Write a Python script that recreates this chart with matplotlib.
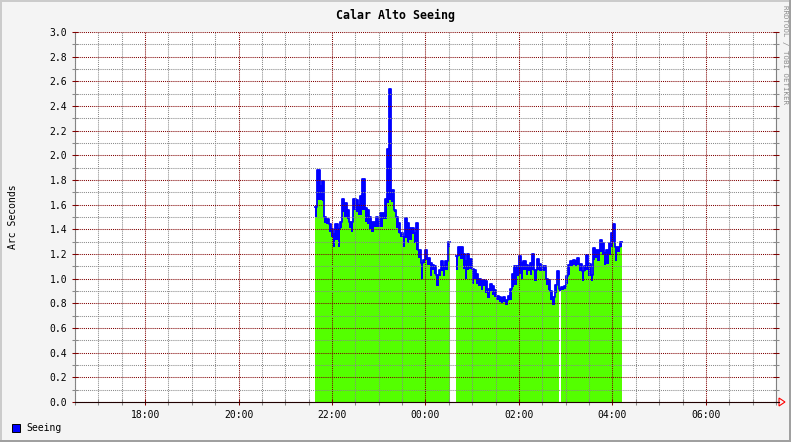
import numpy as np
import matplotlib
matplotlib.use("Agg")
import matplotlib.pyplot as plt
from matplotlib.patches import Rectangle, Polygon
from matplotlib.lines import Line2D
from matplotlib.ticker import MultipleLocator, FixedLocator, FormatStrFormatter

# time axis in hours on a running clock (24 == 00:00 of the next day)
X_MIN, X_MAX = 16.5, 31.5
HOUR_TICKS = [18, 20, 22, 24, 26, 28, 30]
HOUR_LABELS = ["18:00", "20:00", "22:00", "00:00", "02:00", "04:00", "06:00"]
Y_MAX = 3.0
STEP_H = 0.048          # sample spacing, hours

# first block of the night
SEG1_START = 21.64
SEG1_HI = [1.58, 1.88, 1.75, 1.79, 1.50, 1.48, 1.44, 1.40, 1.36, 1.44,
           1.40, 1.46, 1.65, 1.61, 1.56, 1.46, 1.46, 1.65, 1.64, 1.60,
           1.67, 1.81, 1.57, 1.56, 1.50, 1.46, 1.46, 1.50, 1.46, 1.53,
           1.53, 1.65, 2.05, 2.54, 1.72, 1.56, 1.50, 1.45, 1.37, 1.34,
           1.49, 1.45, 1.41, 1.41, 1.37, 1.45, 1.23, 1.13, 1.15, 1.23,
           1.17, 1.13, 1.11, 1.10, 1.03, 1.07, 1.14, 1.10, 1.14, 1.30]
SEG1_LO = [1.50, 1.64, 1.64, 1.63, 1.45, 1.44, 1.38, 1.34, 1.26, 1.31,
           1.26, 1.41, 1.54, 1.50, 1.48, 1.41, 1.38, 1.56, 1.54, 1.52,
           1.52, 1.56, 1.46, 1.44, 1.40, 1.38, 1.42, 1.42, 1.42, 1.42,
           1.48, 1.48, 1.61, 1.64, 1.62, 1.54, 1.41, 1.37, 1.34, 1.26,
           1.33, 1.29, 1.31, 1.36, 1.29, 1.23, 1.17, 1.00, 1.13, 1.15,
           1.11, 1.02, 1.07, 1.04, 0.94, 1.02, 1.06, 1.02, 1.07, 1.26]

# second block, after the short dropout
SEG2_START = 24.652
SEG2_HI = [1.18, 1.26, 1.26, 1.20, 1.14, 1.20, 1.16, 1.08, 1.07, 1.04,
           1.00, 0.98, 0.99, 0.98, 0.92, 0.96, 0.94, 0.91, 0.86, 0.85,
           0.84, 0.85, 0.83, 0.86, 0.92, 1.04, 1.10, 1.10, 1.18, 1.13,
           1.14, 1.11, 1.10, 1.13, 1.20, 1.07, 1.16, 1.12, 1.08, 1.10,
           1.00, 0.99, 0.90, 0.85, 0.95, 1.06, 0.92, 0.93, 0.94, 1.02,
           1.11, 1.14, 1.15, 1.14, 1.17, 1.12, 1.06, 1.10, 1.19, 1.12,
           1.03, 1.25, 1.23, 1.23, 1.31, 1.29, 1.21, 1.23, 1.29, 1.37,
           1.44, 1.26, 1.26, 1.30]
SEG2_LO = [1.07, 1.18, 1.16, 1.08, 1.00, 1.07, 1.08, 0.96, 1.00, 0.96,
           0.94, 0.91, 0.94, 0.88, 0.84, 0.90, 0.87, 0.85, 0.83, 0.81,
           0.80, 0.81, 0.79, 0.83, 0.83, 0.93, 0.95, 1.02, 1.04, 1.00,
           1.07, 1.03, 1.06, 1.03, 1.07, 0.98, 1.07, 1.06, 1.06, 1.06,
           0.95, 0.91, 0.83, 0.79, 0.88, 1.00, np.nan, 0.91, 0.92, 0.96,
           1.03, 1.10, 1.11, 1.10, 1.11, 1.06, 0.98, 1.06, 1.07, 1.02,
           0.98, 1.15, 1.17, 1.14, 1.22, 1.19, 1.11, 1.12, 1.19, 1.26,
           1.29, 1.14, 1.22, 1.26]

GREEN = "#54ff00"
BLUE = "#0000ff"
MAJ = "#800000"
MINC = "#8a8a8a"
BG = "#f4f4f4"
MONO = "DejaVu Sans Mono"

W, H = 791, 442
fig = plt.figure(figsize=(W / 100, H / 100), dpi=100, facecolor=BG)
# plot box in pixels: x 75..776, y 32..402 (from top)
ax = fig.add_axes([75 / W, (H - 402) / H, 701 / W, 370 / H])
ax.set_facecolor("white")


def draw_block(start, hi, lo):
    hi = np.asarray(hi, float)
    lo = np.asarray(lo, float)
    x = start + STEP_H * np.arange(len(hi))
    ok = ~np.isnan(lo)
    ax.bar(x[ok], lo[ok], width=STEP_H, align="edge", color=GREEN, lw=0,
           antialiased=False, zorder=1)
    # band bottom keeps a thin blue edge where the green sample is missing
    band_lo = np.where(ok, lo, hi - 0.02)
    ax.bar(x, hi - band_lo, bottom=band_lo, width=STEP_H, align="edge",
           color=BLUE, lw=0, antialiased=False, zorder=1.2)
    xe = np.append(x, x[-1] + STEP_H)
    ax.step(xe, np.append(hi, hi[-1]), where="post", color=BLUE, lw=1.3, zorder=1.3)


draw_block(SEG1_START, SEG1_HI, SEG1_LO)
draw_block(SEG2_START, SEG2_HI, SEG2_LO)

ax.set_xlim(X_MIN, X_MAX)
ax.set_ylim(0, Y_MAX)
ax.xaxis.set_major_locator(FixedLocator(HOUR_TICKS))
ax.set_xticklabels(HOUR_LABELS)
ax.xaxis.set_minor_locator(MultipleLocator(0.5))
ax.yaxis.set_major_locator(MultipleLocator(0.2))
ax.yaxis.set_minor_locator(MultipleLocator(0.1))
ax.yaxis.set_major_formatter(FormatStrFormatter("%.1f"))

ax.set_axisbelow(False)
ax.grid(which="major", color=MAJ, ls=(0, (1, 1)), lw=0.75)
ax.grid(which="minor", color=MINC, ls=(0, (1, 1)), lw=0.75)

ax.tick_params(which="major", direction="inout", length=5, width=0.75,
               color=MAJ, labelsize=7, pad=3, right=True)
ax.tick_params(which="minor", direction="inout", length=4, width=0.75,
               color=MINC, right=True)
for lab in ax.get_xticklabels() + ax.get_yticklabels():
    lab.set_family(MONO)

for s in ("left", "right"):
    ax.spines[s].set_color("#808080")
    ax.spines[s].set_linewidth(0.8)
ax.spines["top"].set_visible(False)
ax.spines["bottom"].set_color("#200000")
ax.spines["bottom"].set_linewidth(0.8)
ax.spines["bottom"].set_zorder(3)

ax.set_ylabel("Arc Seconds", family=MONO, fontsize=7, labelpad=0)
ax.yaxis.set_label_coords(-57 / 701, 0.5)

fig.text(0.5, 1 - 15 / H, "Calar Alto Seeing", ha="center", va="center",
         family=MONO, fontsize=8.4, fontweight="bold")
fig.text(785 / W, 1 - 5 / H, "RRDTOOL / TOBI OETIKER", rotation=270,
         ha="center", va="top", family=MONO, fontsize=5.3, color="#8c8c8c")


def px(x, y):
    return (x / W, 1 - y / H)


# x-axis arrow
fig.add_artist(Line2D([776 / W, 779 / W], [px(0, 402)[1]] * 2, color="#200000", lw=0.8))
fig.add_artist(Polygon([px(779, 398), px(785, 402), px(779, 406)], closed=True,
                       fill=False, edgecolor="#ff0000", lw=0.8, transform=fig.transFigure))

# legend
fig.add_artist(Rectangle(px(12, 432), 8 / W, 8 / H, facecolor=BLUE, edgecolor="black",
                         lw=0.7, transform=fig.transFigure))
fig.text(26 / W, 1 - 428 / H, "Seeing", ha="left", va="center", family=MONO, fontsize=7)

# 3d-ish frame
fig.add_artist(Rectangle((0, 1 - 2 / H), 1, 2 / H, color="#cbcbcb", lw=0, transform=fig.transFigure))
fig.add_artist(Rectangle((0, 0), 2 / W, 1, color="#cbcbcb", lw=0, transform=fig.transFigure))
fig.add_artist(Rectangle((0, 0), 1, 2 / H, color="#a0a0a0", lw=0, transform=fig.transFigure))
fig.add_artist(Rectangle((1 - 2 / W, 0), 2 / W, 1, color="#a0a0a0", lw=0, transform=fig.transFigure))

fig.savefig("out.png", dpi=100, facecolor=BG)
